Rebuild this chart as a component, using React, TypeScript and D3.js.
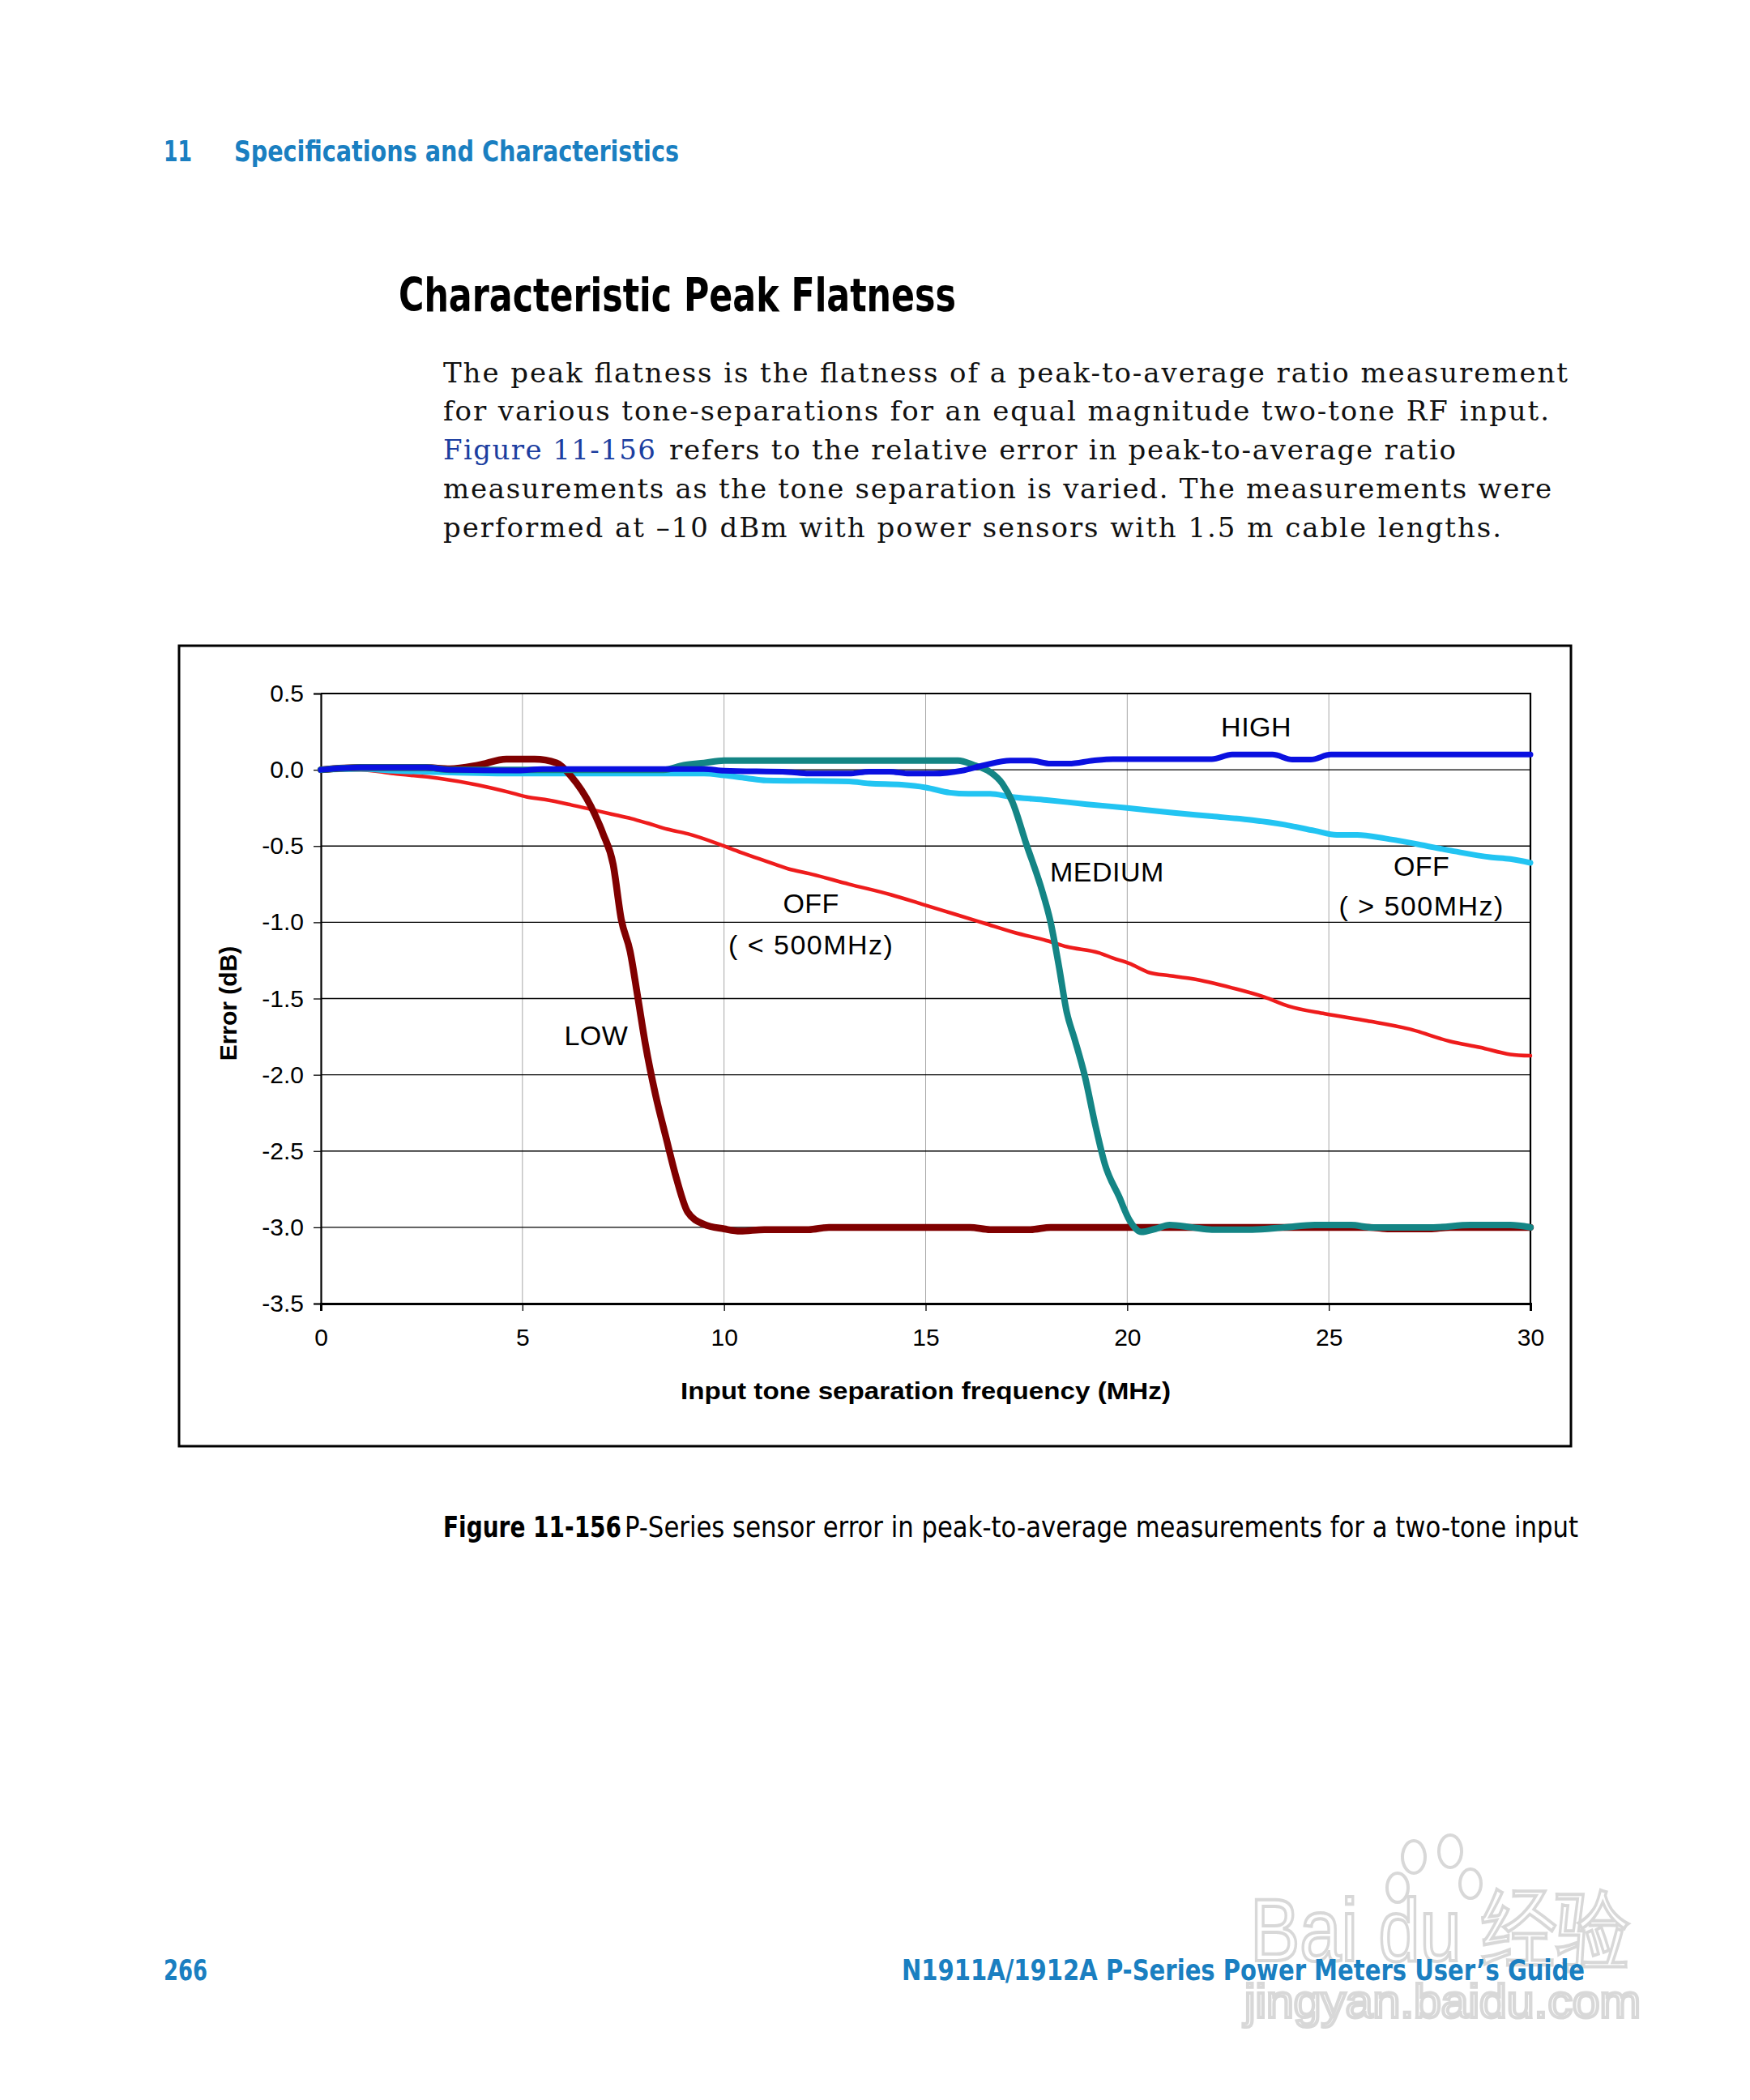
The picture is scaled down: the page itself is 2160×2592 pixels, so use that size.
import { useRef, useEffect } from 'react';
import * as d3 from 'd3';

type Pt = [number, number];

// tone separation (MHz), error (dB)
const LOW: Pt[] = [
  [0, 0], [1, 0.015], [2.6, 0.015], [3.2, 0.006], [3.9, 0.03], [4.6, 0.07], [5.3, 0.07],
  [5.85, 0.045], [6.2, -0.04], [6.7, -0.24], [7.0, -0.42], [7.25, -0.62], [7.45, -0.98],
  [7.67, -1.19], [7.86, -1.49], [8.05, -1.8], [8.3, -2.13], [8.56, -2.41], [8.82, -2.68],
  [9.1, -2.9], [9.5, -2.98], [10.0, -3.01], [10.4, -3.025], [11.0, -3.015], [12.1, -3.015],
  [12.6, -3.0], [16.1, -3.0], [16.6, -3.015], [17.6, -3.015], [18.1, -3.0], [26.0, -3.0],
  [26.5, -3.01], [27.5, -3.01], [28.0, -3.0], [30, -3.0],
];

const MEDIUM: Pt[] = [
  [0, 0], [1, 0.015], [2.6, 0.015], [3.2, 0], [8.5, 0], [9.0, 0.03], [9.5, 0.045], [10.0, 0.06],
  [15.8, 0.06], [16.2, 0.03], [16.6, -0.015], [16.9, -0.09], [17.15, -0.21], [17.5, -0.49],
  [17.85, -0.76], [18.1, -1.0], [18.3, -1.28], [18.5, -1.59], [18.7, -1.77], [18.95, -2.01],
  [19.2, -2.32], [19.45, -2.59], [19.8, -2.8], [20.05, -2.95], [20.35, -3.03], [20.7, -3.01],
  [21.05, -2.985], [21.6, -3.0], [22.1, -3.015], [23.1, -3.015], [23.9, -3.0], [24.65, -2.985],
  [25.55, -2.985], [26.05, -3.0], [27.6, -3.0], [28.5, -2.985], [29.5, -2.985], [30, -3.0],
];

const HIGH: Pt[] = [
  [0, 0], [1, 0.015], [2.6, 0.015], [3.2, 0], [4.9, -0.005], [5.5, 0.005], [9.5, 0.005],
  [10, -0.006], [11.6, -0.015], [12.1, -0.025], [13.1, -0.025], [13.6, -0.012], [14.1, -0.012],
  [14.6, -0.025], [15.2, -0.025], [15.9, -0.006], [16.45, 0.03], [17.1, 0.06], [17.6, 0.06],
  [18.1, 0.04], [18.55, 0.04], [19.15, 0.06], [19.65, 0.07], [22.1, 0.07], [22.6, 0.1],
  [23.6, 0.1], [24.1, 0.067], [24.55, 0.067], [25.05, 0.1], [30, 0.1],
];

const OFF_ABOVE_500: Pt[] = [
  [0, 0], [1, 0.006], [1.8, -0.006], [2.9, -0.015], [4.9, -0.025], [9.5, -0.025], [10, -0.037],
  [10.55, -0.055], [11.05, -0.07], [13.1, -0.076], [13.6, -0.09], [14.4, -0.098], [15.0, -0.116],
  [15.6, -0.15], [16.06, -0.158], [16.6, -0.158], [17.1, -0.177], [18, -0.198], [19, -0.226],
  [20, -0.25], [21.05, -0.28], [22.1, -0.305], [23.1, -0.33], [23.9, -0.36], [24.65, -0.4],
  [25.2, -0.427], [25.7, -0.427], [26.4, -0.45], [27.2, -0.488], [28.1, -0.534], [29, -0.573],
  [29.5, -0.585], [30, -0.61],
];

const OFF_BELOW_500: Pt[] = [
  [0, 0], [1, 0], [1.8, -0.025], [2.9, -0.055], [3.9, -0.1], [4.65, -0.146], [5.1, -0.177],
  [5.55, -0.195], [6.2, -0.23], [6.7, -0.26], [7.2, -0.29], [7.7, -0.32], [8.1, -0.35],
  [8.6, -0.39], [9.1, -0.42], [9.9, -0.49], [10.4, -0.54], [11.05, -0.6], [11.6, -0.65],
  [12.1, -0.68], [13.1, -0.75], [14.15, -0.82], [14.9, -0.88], [15.7, -0.945], [16.45, -1.006],
  [17.2, -1.067], [18, -1.12], [18.5, -1.16], [19.3, -1.2], [19.65, -1.235], [20.05, -1.27],
  [20.55, -1.33], [21.05, -1.35], [21.6, -1.37], [22.6, -1.43], [23.4, -1.49], [24, -1.55],
  [24.9, -1.6], [25.95, -1.646], [27, -1.7], [28, -1.78], [28.75, -1.82], [29.5, -1.866],
  [30, -1.875],
];

const X_TICKS = [0, 5, 10, 15, 20, 25, 30];
const Y_TICKS = [0.5, 0, -0.5, -1, -1.5, -2, -2.5, -3, -3.5];

// drawing order: later ones sit on top
const SERIES = [
  { name: 'OFF (< 500MHz)', data: OFF_BELOW_500, color: '#ee1c1c', width: 4.5 },
  { name: 'OFF (> 500MHz)', data: OFF_ABOVE_500, color: '#22c4f2', width: 7 },
  { name: 'LOW', data: LOW, color: '#800000', width: 8.5 },
  { name: 'MEDIUM', data: MEDIUM, color: '#148585', width: 8 },
  { name: 'HIGH', data: HIGH, color: '#0a10e0', width: 7 },
];

// label anchors in data units (MHz, dB)
const LABELS = [
  { text: 'HIGH', x: 23.2, y: 0.22 },
  { text: 'MEDIUM', x: 19.5, y: -0.73 },
  { text: 'OFF', x: 27.3, y: -0.695 },
  { text: '( > 500MHz)', x: 27.3, y: -0.956 },
  { text: 'OFF', x: 12.16, y: -0.94 },
  { text: '( < 500MHz)', x: 12.16, y: -1.21 },
  { text: 'LOW', x: 6.83, y: -1.805 },
];

const NARROW = "'Liberation Sans Narrow', 'DejaVu Sans Condensed', 'Roboto Condensed', 'Liberation Sans', sans-serif";
const ARIAL = "'Liberation Sans', Arial, sans-serif";
const SERIF = "'DejaVu Serif', 'Liberation Serif', serif";
const BLUE = '#1a7fc1';

const BODY = [
  { text: 'The peak flatness is the flatness of a peak-to-average ratio measurement', x: 547, len: 1388, y: 472 },
  { text: 'for various tone-separations for an equal magnitude two-tone RF input.', x: 547, len: 1365, y: 519 },
  { text: 'refers to the relative error in peak-to-average ratio', x: 826, len: 971, y: 567 },
  { text: 'measurements as the tone separation is varied. The measurements were', x: 547, len: 1368, y: 615 },
  { text: 'performed at \u201310 dBm with power sensors with 1.5 m cable lengths.', x: 547, len: 1306, y: 663 },
];

function Chart() {
  const gRef = useRef<SVGGElement>(null);

  useEffect(() => {
    if (!gRef.current) return;
    const g = d3.select(gRef.current);
    g.selectAll('*').remove();

    const left = 396;
    const right = 1889;
    const top = 856;
    const bottom = 1609;

    const x = d3.scaleLinear().domain([0, 30]).range([left, right]);
    const y = d3.scaleLinear().domain([-3.5, 0.5]).range([bottom, top]);

    // vertical grid
    g.append('g')
      .selectAll('line')
      .data(X_TICKS.filter((d) => d > 0 && d < 30))
      .join('line')
      .attr('x1', (d) => x(d))
      .attr('x2', (d) => x(d))
      .attr('y1', top)
      .attr('y2', bottom)
      .attr('stroke', '#a8a8a8')
      .attr('stroke-width', 1);

    // horizontal grid
    g.append('g')
      .selectAll('line')
      .data(Y_TICKS.filter((d) => d < 0.5 && d > -3.5))
      .join('line')
      .attr('x1', left)
      .attr('x2', right)
      .attr('y1', (d) => y(d))
      .attr('y2', (d) => y(d))
      .attr('stroke', '#000')
      .attr('stroke-width', 1.3);

    // plot frame top / right
    g.append('path')
      .attr('d', `M${left},${top}H${right}V${bottom}`)
      .attr('fill', 'none')
      .attr('stroke', '#000')
      .attr('stroke-width', 2.2);

    // Axes
    const xAxisG = g
      .append('g')
      .attr('transform', `translate(0,${bottom})`)
      .call(d3.axisBottom(x).tickValues(X_TICKS).tickSize(9).tickPadding(22).tickFormat((d) => `${d}`));
    xAxisG.selectAll('.domain').attr('stroke', '#000').attr('stroke-width', 3);
    xAxisG.selectAll('.tick line').attr('stroke', '#000').attr('stroke-width', 1.3);
    xAxisG.selectAll('text').attr('fill', '#000').attr('font-size', '30px').attr('font-family', ARIAL);

    const yAxisG = g
      .append('g')
      .attr('transform', `translate(${left},0)`)
      .call(d3.axisLeft(y).tickValues(Y_TICKS).tickSize(9).tickPadding(12).tickFormat((d) => (+d).toFixed(1)));
    yAxisG.selectAll('.domain').attr('stroke', '#000').attr('stroke-width', 2.2);
    yAxisG.selectAll('.tick line').attr('stroke', '#000').attr('stroke-width', 1.3);
    yAxisG.selectAll('text').attr('fill', '#000').attr('font-size', '30px').attr('font-family', ARIAL);

    // Lines
    const lineGen = d3
      .line<Pt>()
      .x((d) => x(d[0]))
      .y((d) => y(d[1]))
      .curve(d3.curveMonotoneX);

    for (const s of SERIES) {
      g.append('path')
        .datum(s.data)
        .attr('fill', 'none')
        .attr('stroke', s.color)
        .attr('stroke-width', s.width)
        .attr('stroke-linejoin', 'round')
        .attr('stroke-linecap', 'round')
        .attr('d', lineGen);
    }

    // In-plot labels
    g.append('g')
      .selectAll('text')
      .data(LABELS)
      .join('text')
      .attr('x', (d) => x(d.x))
      .attr('y', (d) => y(d.y))
      .attr('text-anchor', 'middle')
      .attr('font-family', ARIAL)
      .attr('font-size', '34px')
      .attr('letter-spacing', (d) => (d.text.startsWith('(') ? '1.5px' : '0.5px'))
      .attr('fill', '#000')
      .text((d) => d.text);

    // Axis titles
    g.append('text')
      .attr('x', (left + right) / 2)
      .attr('y', 1727)
      .attr('text-anchor', 'middle')
      .attr('font-family', ARIAL)
      .attr('font-weight', 'bold')
      .attr('font-size', '30px')
      .attr('textLength', 605)
      .attr('lengthAdjust', 'spacingAndGlyphs')
      .text('Input tone separation frequency (MHz)');

    g.append('text')
      .attr('transform', `translate(292,${(top + bottom) / 2 + 6}) rotate(-90)`)
      .attr('text-anchor', 'middle')
      .attr('font-family', ARIAL)
      .attr('font-weight', 'bold')
      .attr('font-size', '30px')
      .text('Error (dB)');
  }, []);

  return <g ref={gRef} />;
}

export default function App() {
  return (
    <svg
      width={2160}
      height={2592}
      viewBox="0 0 2160 2592"
      style={{ position: 'absolute', left: 0, top: 0, background: '#fff' }}
    >
      <rect x={0} y={0} width={2160} height={2592} fill="#fff" />

      {/* running header */}
      <text x={202} y={199} fontFamily={NARROW} fontWeight="bold" fontSize={35} fill={BLUE}
        textLength={35} lengthAdjust="spacingAndGlyphs">11</text>
      <text x={289} y={199} fontFamily={NARROW} fontWeight="bold" fontSize={35} fill={BLUE}
        textLength={549} lengthAdjust="spacingAndGlyphs">Specifications and Characteristics</text>

      {/* section title */}
      <text x={492} y={384} fontFamily={NARROW} fontWeight="bold" fontSize={57} fill="#000"
        textLength={688} lengthAdjust="spacingAndGlyphs">Characteristic Peak Flatness</text>

      {/* body paragraph */}
      <text x={547} y={567} fontFamily={SERIF} fontSize={34} fill="#1c3ea0"
        textLength={262} lengthAdjust="spacing">Figure 11-156</text>
      {BODY.map((l, i) => (
        <text key={i} x={l.x} y={l.y} fontFamily={SERIF} fontSize={34} fill="#111"
          textLength={l.len} lengthAdjust="spacing">{l.text}</text>
      ))}

      {/* chart frame */}
      <rect x={221} y={797} width={1718} height={988} fill="#fff" stroke="#000" strokeWidth={3} />
      <Chart />

      {/* caption */}
      <text x={547} y={1897} fontFamily={NARROW} fontWeight="bold" fontSize={35} fill="#000"
        textLength={220} lengthAdjust="spacingAndGlyphs">Figure 11-156</text>
      <text x={771} y={1897} fontFamily={NARROW} fontSize={35} fill="#000"
        textLength={1177} lengthAdjust="spacingAndGlyphs">P-Series sensor error in peak-to-average measurements for a two-tone input</text>

      {/* faint watermark */}
      <g fill="#fff" stroke="#d4d4d4" strokeWidth={4} opacity={0.9}>
        <ellipse cx={1745} cy={2292} rx={14} ry={20} />
        <ellipse cx={1790} cy={2285} rx={14} ry={20} />
        <ellipse cx={1725} cy={2330} rx={13} ry={18} />
        <ellipse cx={1815} cy={2325} rx={13} ry={18} />
        <text x={1543} y={2420} fontFamily={ARIAL} fontSize={110} textLength={470}
          lengthAdjust="spacingAndGlyphs">Bai du 经验</text>
        <text x={1536} y={2490} fontFamily={ARIAL} fontSize={58} textLength={489}
          lengthAdjust="spacingAndGlyphs">jingyan.baidu.com</text>
      </g>

      {/* footer */}
      <text x={202} y={2444} fontFamily={NARROW} fontWeight="bold" fontSize={36} fill={BLUE}
        textLength={54} lengthAdjust="spacingAndGlyphs">266</text>
      <text x={1113} y={2444} fontFamily={NARROW} fontWeight="bold" fontSize={36} fill={BLUE}
        textLength={843} lengthAdjust="spacingAndGlyphs">N1911A/1912A P-Series Power Meters User’s Guide</text>
    </svg>
  );
}
